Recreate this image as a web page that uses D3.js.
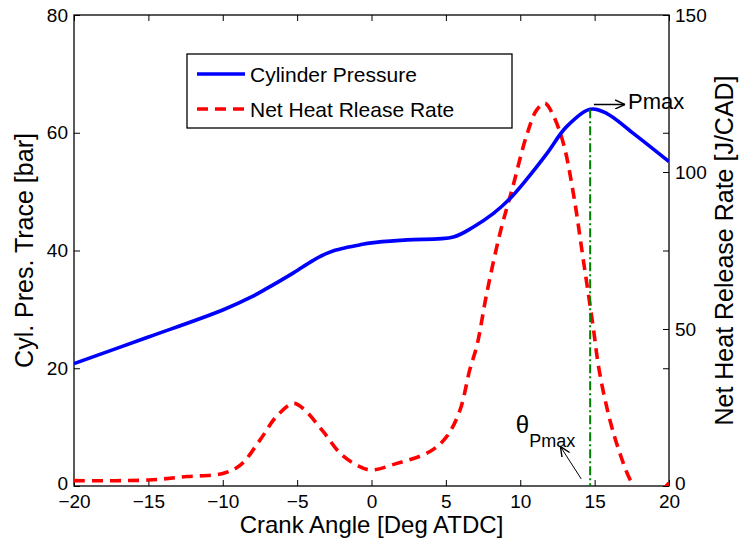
<!DOCTYPE html>
<html>
<head>
<meta charset="utf-8">
<script src="https://cdn.jsdelivr.net/npm/d3@7"></script>
<style>
  body { margin: 0; background: #fff; }
  text { font-family: "Liberation Sans", Arial, Helvetica, sans-serif; fill: #000; }
</style>
</head>
<body>
<svg id="chart" width="742" height="547"></svg>
<script>
// crank angle [deg ATDC] vs cylinder pressure [bar]
const pressureAngle = [-20, -15, -10, -8, -7, -5.25, -4, -3.2, -2.5, -1.7, -0.8, 0, 2.4, 5.5, 6.85, 8.2, 9.3, 10.4, 11.8, 13.1, 14.7, 15.8, 17.6, 20];
const pressure = [20.8, 25.3, 29.9, 32.2, 33.6, 36.2, 38.2, 39.3, 40.0, 40.5, 40.95, 41.3, 41.8, 42.3, 44.0, 46.3, 48.8, 52.0, 56.5, 61.0, 64.0, 63.3, 59.9, 55.1];

// crank angle vs net heat release rate [J/CAD]
const hrrAngle = [-20, -15, -12.4, -10, -8.8, -7.5, -6.4, -5.25, -4.6, -3.24, -2.1, -0.8, 0, 1.7, 3.9, 5.05, 5.95, 6.6, 7.1, 7.75, 8.64, 9.5, 10.4, 11.1, 11.66, 12.2, 12.9, 13.57, 14.24, 14.9, 15.3, 16.0, 16.7, 17.4, 18.0, 19.0, 19.7, 20];
const hrr = [1.7, 1.9, 3.0, 4.0, 6.7, 14.6, 22.1, 26.3, 24.7, 17.3, 10.4, 6.2, 5.1, 7.2, 10.9, 15.7, 24.2, 36.9, 45.0, 61.4, 80.5, 95.3, 111.2, 119.7, 121.9, 118.2, 109.1, 93.2, 72.0, 50.7, 37.0, 21.5, 10.4, 1.9, -2.0, -2.5, -0.5, 1.0];

const xTicks = [-20, -15, -10, -5, 0, 5, 10, 15, 20];
const leftTicks = [0, 20, 40, 60, 80];
const rightTicks = [0, 50, 100, 150];

const pmaxAngle = 14.7;

const svg = d3.select("#chart");
const margin = { top: 15, right: 73, bottom: 61, left: 74 };
const W = 742, H = 547;
const width = W - margin.left - margin.right;
const height = H - margin.top - margin.bottom;

const x = d3.scaleLinear().domain([-20, 20]).range([margin.left, margin.left + width]);
const yL = d3.scaleLinear().domain([0, 80]).range([margin.top + height, margin.top]);
const yR = d3.scaleLinear().domain([0, 150]).range([margin.top + height, margin.top]);

const defs = svg.append("defs");
defs.append("clipPath").attr("id", "clip")
  .append("rect")
  .attr("x", margin.left).attr("y", margin.top)
  .attr("width", width).attr("height", height);

defs.append("marker")
  .attr("id", "arrow")
  .attr("viewBox", "0 0 10 10")
  .attr("refX", 10).attr("refY", 5)
  .attr("markerWidth", 10).attr("markerHeight", 10)
  .attr("markerUnits", "userSpaceOnUse")
  .attr("orient", "auto")
  .append("path")
  .attr("d", "M0,0.5 L10,5 L0,9.5")
  .attr("fill", "none")
  .attr("stroke", "#000")
  .attr("stroke-width", 1.4);

const tickLen = 6;
const tickFont = 19;

// axes, MATLAB style: ticks inside, box all round
const gx = svg.append("g")
  .attr("transform", "translate(0," + (margin.top + height) + ")")
  .call(d3.axisBottom(x).tickValues(xTicks).tickSizeInner(-tickLen).tickSizeOuter(0).tickPadding(9));
const gxTop = svg.append("g")
  .attr("transform", "translate(0," + margin.top + ")")
  .call(d3.axisTop(x).tickValues(xTicks).tickSizeInner(-tickLen).tickSizeOuter(0).tickFormat(""));
const gl = svg.append("g")
  .attr("transform", "translate(" + margin.left + ",0)")
  .call(d3.axisLeft(yL).tickValues(leftTicks).tickSizeInner(-tickLen).tickSizeOuter(0).tickPadding(6));
const glMirror = svg.append("g")
  .attr("transform", "translate(" + (margin.left + width) + ",0)")
  .call(d3.axisRight(yL).tickValues(leftTicks).tickSizeInner(-tickLen).tickSizeOuter(0).tickFormat(""));
const gr = svg.append("g")
  .attr("transform", "translate(" + (margin.left + width) + ",0)")
  .call(d3.axisRight(yR).tickValues(rightTicks).tickSizeInner(-tickLen).tickSizeOuter(0).tickPadding(6));

[gx, gxTop, gl, glMirror, gr].forEach(g => {
  g.select(".domain").remove();
  g.selectAll("line").attr("stroke", "#000").attr("stroke-width", 1);
  g.selectAll("text").attr("font-size", tickFont).attr("fill", "#000");
});
gx.selectAll("text").attr("dy", "0.66em");
// lift the bottom "0" labels a little so they clear the x tick labels
gl.selectAll(".tick").filter(d => d === 0).select("text").attr("dy", "0.2em");
gr.selectAll(".tick").filter(d => d === 0).select("text").attr("dy", "0.2em");

// box
svg.append("rect")
  .attr("x", margin.left).attr("y", margin.top)
  .attr("width", width).attr("height", height)
  .attr("fill", "none").attr("stroke", "#000").attr("stroke-width", 1.3);

const plot = svg.append("g").attr("clip-path", "url(#clip)");

// heat release rate
plot.append("path")
  .datum(hrrAngle.map((a, i) => [a, hrr[i]]))
  .attr("fill", "none")
  .attr("stroke", "#ff0000")
  .attr("stroke-width", 3.6)
  .attr("stroke-dasharray", "11,7")
  .attr("d", d3.line().curve(d3.curveCatmullRom.alpha(0.5))
    .x(d => x(d[0])).y(d => yR(d[1])));

// cylinder pressure
plot.append("path")
  .datum(pressureAngle.map((a, i) => [a, pressure[i]]))
  .attr("fill", "none")
  .attr("stroke", "#0000ff")
  .attr("stroke-width", 3.6)
  .attr("d", d3.line().curve(d3.curveCatmullRom.alpha(0.5))
    .x(d => x(d[0])).y(d => yL(d[1])));

// theta at Pmax
const pmax = d3.max(pressure);
plot.append("line")
  .attr("x1", x(pmaxAngle)).attr("x2", x(pmaxAngle))
  .attr("y1", yL(pmax)).attr("y2", yL(0))
  .attr("stroke", "#008000")
  .attr("stroke-width", 2)
  .attr("stroke-dasharray", "9,3,2,3");

// annotations
svg.append("line")
  .attr("x1", x(14.95)).attr("y1", yL(64.8))
  .attr("x2", x(17.05)).attr("y2", yL(64.8))
  .attr("stroke", "#000").attr("stroke-width", 1.3)
  .attr("marker-end", "url(#arrow)");
svg.append("text")
  .attr("x", x(17.25)).attr("y", yL(64.0))
  .attr("font-size", 22)
  .text("Pmax");

svg.append("line")
  .attr("x1", x(14.1)).attr("y1", yL(1.2))
  .attr("x2", x(12.7)).attr("y2", yL(6.7))
  .attr("stroke", "#000").attr("stroke-width", 1)
  .attr("marker-end", "url(#arrow)");
const th = svg.append("text")
  .attr("x", x(9.7)).attr("y", yL(9.0))
  .attr("font-size", 24);
th.append("tspan").text("θ");
th.append("tspan").attr("dy", 14).attr("font-size", 18).text("Pmax");

// axis labels
svg.append("text")
  .attr("x", margin.left + width / 2).attr("y", 533)
  .attr("text-anchor", "middle")
  .attr("font-size", 24)
  .text("Crank Angle [Deg ATDC]");
svg.append("text")
  .attr("transform", "translate(33," + (margin.top + height / 2) + ") rotate(-90)")
  .attr("text-anchor", "middle")
  .attr("font-size", 25)
  .text("Cyl. Pres. Trace [bar]");
svg.append("text")
  .attr("transform", "translate(733," + (margin.top + height / 2) + ") rotate(-90)")
  .attr("text-anchor", "middle")
  .attr("font-size", 25)
  .text("Net Heat Release Rate [J/CAD]");

// legend
const legend = svg.append("g").attr("transform", "translate(187,54)");
legend.append("rect")
  .attr("width", 325).attr("height", 74)
  .attr("fill", "#fff").attr("stroke", "#000").attr("stroke-width", 1.3);
const legendItems = [
  { name: "Cylinder Pressure", color: "#0000ff", dash: null, y: 20 },
  { name: "Net Heat Rlease Rate", color: "#ff0000", dash: "11,7", y: 55 }
];
legendItems.forEach(d => {
  legend.append("line")
    .attr("x1", 10).attr("x2", 58).attr("y1", d.y).attr("y2", d.y)
    .attr("stroke", d.color).attr("stroke-width", 3.6)
    .attr("stroke-dasharray", d.dash);
  legend.append("text")
    .attr("x", 63).attr("y", d.y + 8)
    .attr("font-size", 21)
    .text(d.name);
});
</script>
</body>
</html>
